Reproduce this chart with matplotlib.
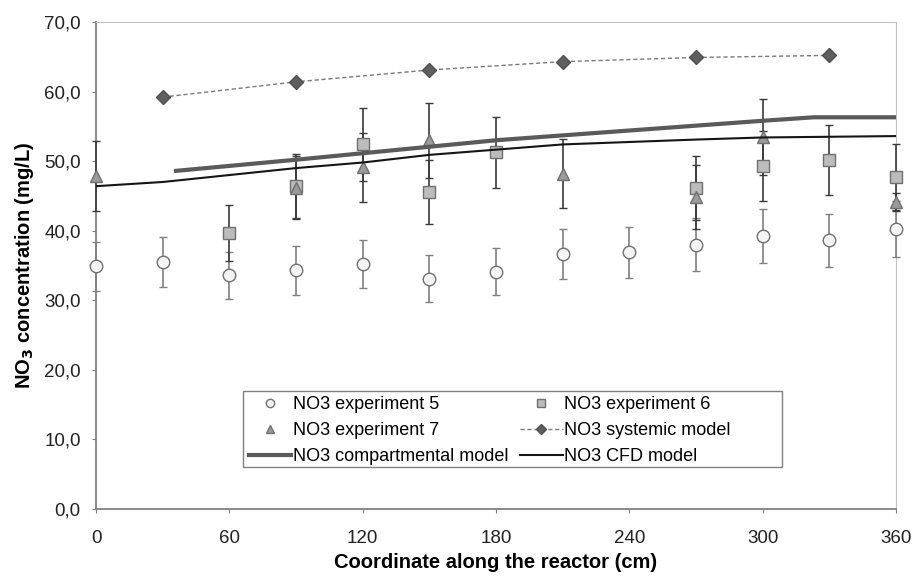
import numpy as np
import matplotlib.pyplot as plt
from matplotlib.lines import Line2D
from matplotlib.patches import Rectangle

plt.rcParams['font.family'] = ['Liberation Sans', 'DejaVu Sans']

# experiment 5 (circles)
x_exp5 = [0, 30, 60, 90, 120, 150, 180, 210, 240, 270, 300, 330, 360]
y_exp5 = [34.9, 35.5, 33.6, 34.3, 35.2, 33.1, 34.1, 36.6, 36.9, 38.0, 39.2, 38.6, 40.2]
e_exp5 = [3.5, 3.6, 3.4, 3.5, 3.5, 3.4, 3.4, 3.6, 3.7, 3.8, 3.9, 3.8, 4.0]

# experiment 6 (squares)
x_exp6 = [60, 90, 120, 150, 180, 270, 300, 330, 360]
y_exp6 = [39.7, 46.4, 52.4, 45.6, 51.3, 46.1, 49.3, 50.2, 47.7]
e_exp6 = [4.0, 4.6, 5.2, 4.6, 5.1, 4.6, 5.0, 5.0, 4.7]

# experiment 7 (triangles)
x_exp7 = [0, 90, 120, 150, 210, 270, 300, 360]
y_exp7 = [47.9, 46.2, 49.1, 53.0, 48.2, 44.9, 53.5, 44.1]
e_exp7 = [5.0, 4.5, 5.0, 5.4, 5.0, 4.6, 5.5, 1.3]

# systemic model (diamonds, dashed)
x_sys = [30, 90, 150, 210, 270, 330]
y_sys = [59.2, 61.4, 63.1, 64.3, 64.9, 65.2]

# compartmental model (thick line)
x_comp = [36, 90, 180, 300, 323, 360]
y_comp = [48.6, 50.2, 53.0, 55.8, 56.3, 56.3]

# CFD model (thin line)
x_cfd = [0, 30, 90, 120, 150, 186, 210, 270, 300, 330, 360]
y_cfd = [46.4, 47.0, 49.0, 49.8, 50.9, 51.8, 52.4, 53.1, 53.4, 53.5, 53.6]

fig = plt.figure(figsize=(9.13, 5.77), dpi=100)
ax = fig.add_axes([0.1052, 0.1179, 0.8762, 0.8440])

exp_styles = [
    (x_exp5, y_exp5, e_exp5, 'o', '#f4f4f4', '#808080'),
    (x_exp6, y_exp6, e_exp6, 's', '#bcbcbc', '#3a3a3a'),
    (x_exp7, y_exp7, e_exp7, '^', '#9a9a9a', '#3a3a3a'),
]
for xs, ys, es, mk, fc, ec in exp_styles:
    cont = ax.errorbar(xs, ys, yerr=es, fmt=mk, ms=9, mfc=fc, mec='#707070', mew=1.0,
                       ecolor=ec, elinewidth=1.2, capsize=3, capthick=1.2, zorder=3)
    for art in cont.get_children():
        art.set_clip_on(False)

ax.plot(x_sys, y_sys, linestyle=(0, (3, 2)), color='#7a7a7a', lw=1.0, marker='D', ms=7,
        mfc='#5f5f5f', mec='#505050', zorder=4)
ax.plot(x_comp, y_comp, color='#5a5a5a', lw=3.0, zorder=4)
ax.plot(x_cfd, y_cfd, color='#151515', lw=1.5, zorder=4)

ax.set_xlim(0, 360)
ax.set_ylim(0, 70)
ax.set_xticks(np.arange(0, 361, 60))
ax.set_yticks(np.arange(0, 71, 10))
ax.set_yticklabels([f"{v},0" for v in range(0, 71, 10)])
ax.tick_params(labelsize=13.5, colors='#222222', length=3, color='#808080')
ax.tick_params(axis='x', pad=12.5)
ax.tick_params(axis='y', pad=8)

for side in ['top', 'right']:
    ax.spines[side].set_color('#c0c0c0')
for side in ['left', 'bottom']:
    ax.spines[side].set_color('#808080')
    ax.spines[side].set_linewidth(1.3)

ax.set_xlabel('Coordinate along the reactor (cm)', fontsize=14.5, fontweight='bold', labelpad=4)
ax.set_ylabel('NO$_\\mathbf{3}$ concentration (mg/L)', fontsize=14.5, fontweight='bold', labelpad=6)

# legend frame drawn separately (wider than its contents)
ax.add_patch(Rectangle((0.184, 0.086), 0.674, 0.156, transform=ax.transAxes,
                       facecolor='white', edgecolor='#808080', lw=1.0, zorder=5))

handles = [
    Line2D([], [], ls='none', marker='o', ms=6, mfc='#f4f4f4', mec='#707070'),
    Line2D([], [], ls='none', marker='^', ms=6, mfc='#9a9a9a', mec='#707070'),
    Line2D([], [], color='#5a5a5a', lw=3.0),
    Line2D([], [], ls='none', marker='s', ms=6, mfc='#bcbcbc', mec='#707070'),
    Line2D([], [], ls=(0, (3, 2)), color='#7a7a7a', lw=1.0, marker='D', ms=5,
           mfc='#5f5f5f', mec='#505050'),
    Line2D([], [], color='#151515', lw=1.5),
]
labels = ['NO3 experiment 5', 'NO3 experiment 7', 'NO3 compartmental model',
          'NO3 experiment 6', 'NO3 systemic model', 'NO3 CFD model']
leg = ax.legend(handles, labels, ncol=2, loc='upper left', bbox_to_anchor=(0.184, 0.2423),
                fontsize=13, frameon=False, handlelength=2.35, columnspacing=0.65,
                handletextpad=0.1, borderpad=0.3, labelspacing=0.5, borderaxespad=0)
leg.set_zorder(6)

fig.savefig('out.png', dpi=100)
